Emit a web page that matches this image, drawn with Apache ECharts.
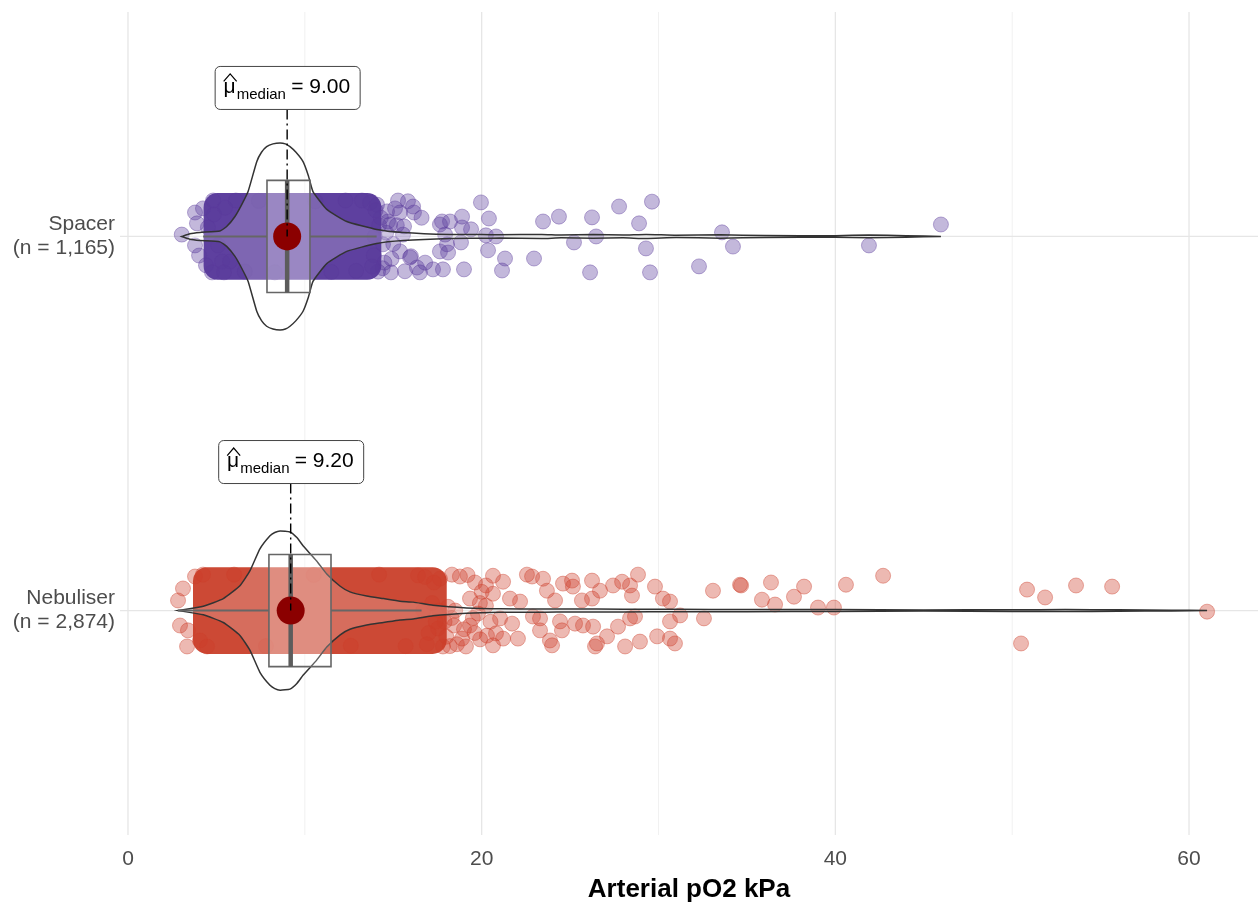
<!DOCTYPE html>
<html><head><meta charset="utf-8">
<script src="https://cdn.jsdelivr.net/npm/echarts@6/dist/echarts.min.js"></script>
<style>html,body{margin:0;padding:0;background:#fff}#c{width:1258px;height:908px}</style>
</head><body><div id="c"></div>
<script>
// ---------- data ----------
const groups = ['Nebuliser', 'Spacer'];
const groupN = ['2,874', '1,165'];
const xTicks = [0, 20, 40, 60];
const xGridMajor = [0, 20, 40, 60];
const xGridMinor = [10, 30, 50];
const medians = [9.2, 9.0];
// [lower whisker, Q1, median, Q3, upper whisker]
const boxNeb = [2.83, 7.97, 9.2, 11.48, 16.6];
const boxSpa = [4.25, 7.86, 9.0, 10.29, 14.06];
// x-extent of the saturated (overplotted) part of the jittered points
const coreNeb = [4.1, 17.6];
const coreSpa = [4.7, 13.9];
// violin density (relative)
const violinNebX = [2.83, 4.26, 5.39, 6.33, 6.90, 7.46, 8.03, 8.30, 8.60, 9.16, 9.55, 9.91, 10.67, 11.24, 12.0, 12.55, 13.5, 14.44, 15.38, 16.13, 17.25, 19.15, 21.0, 23.5, 25, 28, 31, 35, 40, 45, 50, 53, 56, 59, 61.02];
const violinNebD = [0, 0.046, 0.128, 0.266, 0.426, 0.66, 0.80, 0.835, 0.851, 0.84, 0.78, 0.69, 0.53, 0.39, 0.26, 0.20, 0.155, 0.128, 0.100, 0.090, 0.056, 0.028, 0.018, 0.017, 0.016, 0.015, 0.013, 0.012, 0.010, 0.006, 0.009, 0.010, 0.008, 0.004, 0];
const violinSpaX = [3.04, 3.5, 4.07, 5.2, 5.58, 6.05, 6.43, 6.79, 7.28, 7.55, 7.84, 8.2, 8.6, 8.9, 9.16, 9.5, 9.9, 10.2, 10.46, 11.24, 12.37, 14.06, 15.55, 18.2, 20, 21, 23.4, 24.5, 26.3, 28, 29.3, 31, 33.5, 36, 40, 41.9, 44, 45.97];
const violinSpaD = [0, 0.03, 0.043, 0.058, 0.106, 0.213, 0.34, 0.48, 0.8, 0.9, 0.96, 0.99, 1.0, 0.99, 0.96, 0.9, 0.8, 0.65, 0.48, 0.29, 0.16, 0.075, 0.043, 0.021, 0.02, 0.017, 0.022, 0.015, 0.02, 0.015, 0.022, 0.012, 0.018, 0.01, 0.008, 0.015, 0.008, 0];
// jittered points: [value, vertical jitter]
const pointsSpa = [
 [3.04,0.005],[3.79,0.064],[3.90,0.035],[3.79,-0.024],[4.02,-0.051],[4.24,0.075],[4.41,-0.077],[4.52,0.024],[4.75,-0.096],[4.86,0.059],[4.81,0.096],[5.09,-0.024],[5.32,-0.067],[5.43,-0.096],[5.49,0.077],[5.77,-0.067],[6.10,0.096],
 [6.6,-0.094],[7.4,0.095],[8.3,-0.096],[10.6,0.094],[11.5,-0.095],[12.3,0.096],[12.9,-0.092],
 [13.23,0.096],[13.69,0.09],[14.08,0.085],[14.65,0.067],[15.27,0.096],[15.83,0.094],[15.38,0.064],[16.12,0.08],[14.82,0.032],[15.55,0.005],[14.42,-0.021],[15.38,-0.04],[15.95,-0.056],[16.34,-0.083],[15.66,-0.093],[16.51,-0.096],[17.25,-0.088],[17.64,-0.04],[17.81,-0.088],[14.87,-0.096],[14.14,-0.094],[17.64,0.032],[18.04,-0.021],[16.17,0.064],[15.61,0.027],[16.00,-0.053],[17.76,0.04],[18.21,0.04],[18.89,0.053],[20.41,0.048],[19.40,0.019],[20.24,0.003],[20.81,0.0],[20.36,-0.037],[21.32,-0.059],[21.15,-0.091],[19.00,-0.088],[18.10,-0.043],[18.83,-0.016],[18.89,0.024],[17.93,0.005],[19.96,0.091],
 [14.3,0.05],[14.9,-0.06],[15.1,0.075],[14.5,-0.07],[13.95,0.0],[14.6,0.01],[13.9,-0.05],[14.2,0.03],[14.0,0.07],[14.4,-0.085],[13.8,-0.08],[14.7,0.04],[15.0,-0.02],[15.2,0.03],[16.8,-0.07],[16.6,0.05],
 [23.47,0.04],[24.37,0.053],[26.24,0.051],[27.77,0.08],[29.63,0.093],[28.90,0.035],[25.22,-0.016],[26.47,0.0],[29.29,-0.032],[22.96,-0.059],[26.13,-0.096],[29.52,-0.096],[32.29,-0.08],[33.59,0.011],[34.21,-0.027],[41.90,-0.024],[45.97,0.032]
];
const pointsNeb = [
 [2.83,0.027],[3.11,0.059],[3.79,0.091],[2.94,-0.04],[3.39,-0.053],[3.34,-0.096],[4.24,0.096],[4.07,-0.08],[4.47,-0.096],
 [6.0,0.096],[7.8,-0.095],[10.5,0.095],[12.6,-0.094],[14.2,0.096],[15.7,-0.095],[16.4,0.094],
 [17.53,-0.048],[17.81,-0.096],[17.64,0.085],[18.32,0.096],[18.44,-0.04],[18.77,0.091],[18.89,-0.075],[19.34,0.032],[19.34,-0.04],[19.62,0.075],[19.79,-0.008],[19.91,-0.077],[19.11,-0.096],[20.24,0.067],[20.24,0.013],[20.81,-0.061],
 [18.5,0.0],[19.5,-0.02],[18.0,-0.07],[19.2,0.095],[18.6,-0.09],[19.9,0.02],[18.1,0.01],[17.9,-0.03],
 [16.8,0.09],[17.0,-0.06],[17.2,0.02],[16.9,-0.09],[17.3,0.075],[18.3,-0.02],[19.0,-0.05],[19.6,-0.06],[20.0,0.05],[20.5,-0.03],[17.6,0.0],[18.2,-0.095],[17.4,-0.03],[16.7,0.0],
 [20.64,0.093],[21.21,0.077],[22.56,0.096],[22.85,0.091],[23.47,0.085],[23.69,0.053],[24.15,0.027],[24.60,0.072],[25.11,0.08],[25.16,0.064],[26.24,0.08],[26.69,0.053],[26.24,0.032],[25.67,0.027],[27.43,0.067],[27.94,0.077],[28.39,0.067],[28.50,0.04],[28.84,0.096],[29.80,0.064],[30.25,0.032],[30.65,0.024],[31.22,-0.013],[30.65,-0.029],[28.67,-0.016],[28.39,-0.021],[27.71,-0.043],[27.09,-0.069],[26.30,-0.043],[25.73,-0.04],[25.28,-0.035],[24.43,-0.029],[24.54,-0.053],[23.30,-0.053],[23.86,-0.08],[23.98,-0.093],[26.52,-0.088],[26.41,-0.096],[28.11,-0.096],[28.95,-0.083],[29.92,-0.069],[30.65,-0.075],[30.93,-0.088],[23.30,-0.021],[22.90,-0.016],[22.05,-0.075],[21.21,-0.075],[20.64,-0.093],[20.30,-0.067],[21.72,-0.035],[21.04,-0.021],[22.17,0.024],[21.60,0.032],[20.64,0.045],
 [32.57,-0.021],[33.08,0.053],[34.61,0.069],[34.67,0.067],[35.85,0.029],[36.36,0.075],[36.59,0.016],[37.66,0.037],[38.23,0.064],[39.02,0.008],[39.92,0.008],[40.60,0.069],[42.70,0.093],[50.50,-0.088],[50.84,0.056],[51.86,0.035],[53.61,0.067],[55.65,0.064],[61.02,-0.003]
];

// ---------- styling ----------
const FONT = '"Liberation Sans", Arial, sans-serif';
const colSpa = [90, 58, 156], colNeb = [204, 62, 42];
const rgba = (c, a) => `rgba(${c[0]},${c[1]},${c[2]},${a})`;
const coreColSpa = 'rgb(94,64,159)', coreColNeb = 'rgb(204,73,53)';
const JIT = 0.096;       // jitter half-height (category units)
const VW = 0.25;         // violin max half-width
const BOXH = 0.15;       // box half-height
const LABEL_OFF = 0.397; // label height above category
const PR = 7.5;          // point radius px

const G = [
  {cat: 1, box: boxNeb, core: coreNeb, vx: violinNebX, vd: violinNebD, coreCol: coreColNeb},
  {cat: 2, box: boxSpa, core: coreSpa, vx: violinSpaX, vd: violinSpaD, coreCol: coreColSpa}
];

const chart = echarts.init(document.getElementById('c'), null, {renderer: 'canvas'});

const option = {
  animation: false,
  backgroundColor: '#ffffff',
  grid: {left: 120, right: 0, top: 12, bottom: 71, containLabel: false},
  xAxis: {
    type: 'value', min: -0.452, max: 63.9,
    axisLine: {show: false}, axisTick: {show: false}, splitLine: {show: false},
    axisLabel: {customValues: xTicks, color: '#4d4d4d', fontSize: 21, margin: 14, fontFamily: FONT},
    name: 'Arterial pO2 kPa', nameLocation: 'middle', nameGap: 42,
    nameTextStyle: {fontSize: 26, fontWeight: 'bold', color: '#000', fontFamily: FONT}
  },
  yAxis: {
    type: 'value', min: 0.4, max: 2.6,
    axisLine: {show: false}, axisTick: {show: false}, splitLine: {show: false},
    axisLabel: {
      customValues: [1, 2], color: '#4d4d4d', fontSize: 21, lineHeight: 24, align: 'right', margin: 5, fontFamily: FONT,
      formatter: v => { const i = Math.round(v) - 1; return groups[i] + '\n(n = ' + groupN[i] + ')'; }
    }
  },
  series: [
    { // grid lines
      type: 'custom', silent: true, z: 0, data: [[0, 1]],
      renderItem(params, api) {
        const cs = params.coordSys, ch = [];
        xGridMinor.forEach(v => { const px = api.coord([v, 1])[0];
          ch.push({type: 'line', shape: {x1: px, y1: cs.y, x2: px, y2: cs.y + cs.height}, style: {stroke: '#f1f1f1', lineWidth: 1}}); });
        xGridMajor.forEach(v => { const px = api.coord([v, 1])[0];
          ch.push({type: 'line', shape: {x1: px, y1: cs.y, x2: px, y2: cs.y + cs.height}, style: {stroke: '#e6e6e6', lineWidth: 1.3}}); });
        [1, 2].forEach(c => { const py = api.coord([0, c])[1];
          ch.push({type: 'line', shape: {x1: cs.x, y1: py, x2: cs.x + cs.width, y2: py}, style: {stroke: '#e6e6e6', lineWidth: 1.3}}); });
        return {type: 'group', children: ch};
      }
    },
    { // saturated core of overplotted points
      type: 'custom', silent: true, z: 1, data: [[0, 1], [1, 2]],
      renderItem(params, api) {
        const g = G[params.dataIndex];
        const p0 = api.coord([g.core[0], g.cat + JIT]), p1 = api.coord([g.core[1], g.cat - JIT]);
        return {type: 'rect', shape: {x: p0[0] - PR, y: p0[1] - PR, width: p1[0] - p0[0] + 2 * PR, height: p1[1] - p0[1] + 2 * PR, r: 14},
          style: {fill: g.coreCol}};
      }
    },
    {
      type: 'scatter', z: 2, symbolSize: 2 * PR,
      data: pointsNeb.map(p => [p[0], 1 + p[1]]),
      itemStyle: {color: rgba(colNeb, 0.45), borderColor: rgba(colNeb, 0.5), borderWidth: 1}
    },
    {
      type: 'scatter', z: 2, symbolSize: 2 * PR,
      data: pointsSpa.map(p => [p[0], 2 + p[1]]),
      itemStyle: {color: rgba(colSpa, 0.45), borderColor: rgba(colSpa, 0.5), borderWidth: 1}
    },
    { // violins
      type: 'custom', silent: true, z: 3, data: [[0, 1], [1, 2]],
      renderItem(params, api) {
        const g = G[params.dataIndex];
        const up = g.vx.map((x, i) => api.coord([x, g.cat + g.vd[i] * VW]));
        const lo = g.vx.map((x, i) => api.coord([x, g.cat - g.vd[i] * VW])).reverse();
        return {type: 'polygon', shape: {points: up.concat(lo), smooth: 0.15},
          style: {fill: 'rgba(255,255,255,0.2)', stroke: '#333333', lineWidth: 1.5}};
      }
    },
    { // boxplots
      type: 'custom', silent: true, z: 4, data: [[0, 1], [1, 2]],
      renderItem(params, api) {
        const g = G[params.dataIndex], b = g.box;
        const a = api.coord([b[1], g.cat + BOXH]), c = api.coord([b[3], g.cat - BOXH]);
        const y = api.coord([0, g.cat])[1];
        const lo = api.coord([b[0], g.cat])[0], hi = api.coord([b[4], g.cat])[0], md = api.coord([b[2], g.cat])[0];
        return {type: 'group', children: [
          {type: 'line', shape: {x1: lo, y1: y, x2: a[0], y2: y}, style: {stroke: '#666', lineWidth: 2}},
          {type: 'line', shape: {x1: c[0], y1: y, x2: hi, y2: y}, style: {stroke: '#666', lineWidth: 2}},
          {type: 'rect', shape: {x: a[0], y: a[1], width: c[0] - a[0], height: c[1] - a[1]},
            style: {fill: 'rgba(255,255,255,0.22)', stroke: '#666', lineWidth: 1.6}},
          {type: 'line', shape: {x1: md, y1: a[1], x2: md, y2: c[1]}, style: {stroke: '#5c5c5c', lineWidth: 4.5}}
        ]};
      }
    },
    {
      type: 'scatter', z: 5, symbolSize: 28,
      data: medians.map((m, i) => [m, i + 1]),
      itemStyle: {color: '#8b0000', opacity: 1}
    },
    { // median labels
      type: 'custom', silent: true, z: 6, data: [[0, 1], [1, 2]],
      renderItem(params, api) {
        const i = params.dataIndex, m = medians[i], cat = i + 1;
        const ctr = api.coord([m, cat + LABEL_OFF]), pt = api.coord([m, cat]);
        const W = 145, H = 43, L = ctr[0] - W / 2 + 0.5, T = ctr[1] - H / 2;
        return {type: 'group', children: [
          {type: 'line', shape: {x1: pt[0], y1: T + H, x2: pt[0], y2: pt[1]},
            style: {stroke: '#000', lineWidth: 1.4, lineDash: [10, 4, 2, 4]}},
          {type: 'rect', shape: {x: L, y: T, width: W, height: H, r: 5},
            style: {fill: '#fff', stroke: '#444', lineWidth: 1}},
          {type: 'polyline', shape: {points: [[L + 8.5, T + 15], [L + 15, T + 7.5], [L + 21.5, T + 15]]},
            style: {stroke: '#000', lineWidth: 1.2, fill: null}},
          {type: 'text', style: {x: L + 8.3, y: T + 21, text: 'μ', fill: '#000', font: '21px ' + FONT, align: 'left', verticalAlign: 'middle'}},
          {type: 'text', style: {x: L + 21.6, y: T + 28.6, text: 'median', fill: '#000', font: '15px ' + FONT, align: 'left', verticalAlign: 'middle'}},
          {type: 'text', style: {x: L + 76, y: T + 21, text: '= ' + m.toFixed(2), fill: '#000', font: '21px ' + FONT, align: 'left', verticalAlign: 'middle'}}
        ]};
      }
    }
  ]
};
chart.setOption(option);
</script>
</body></html>
